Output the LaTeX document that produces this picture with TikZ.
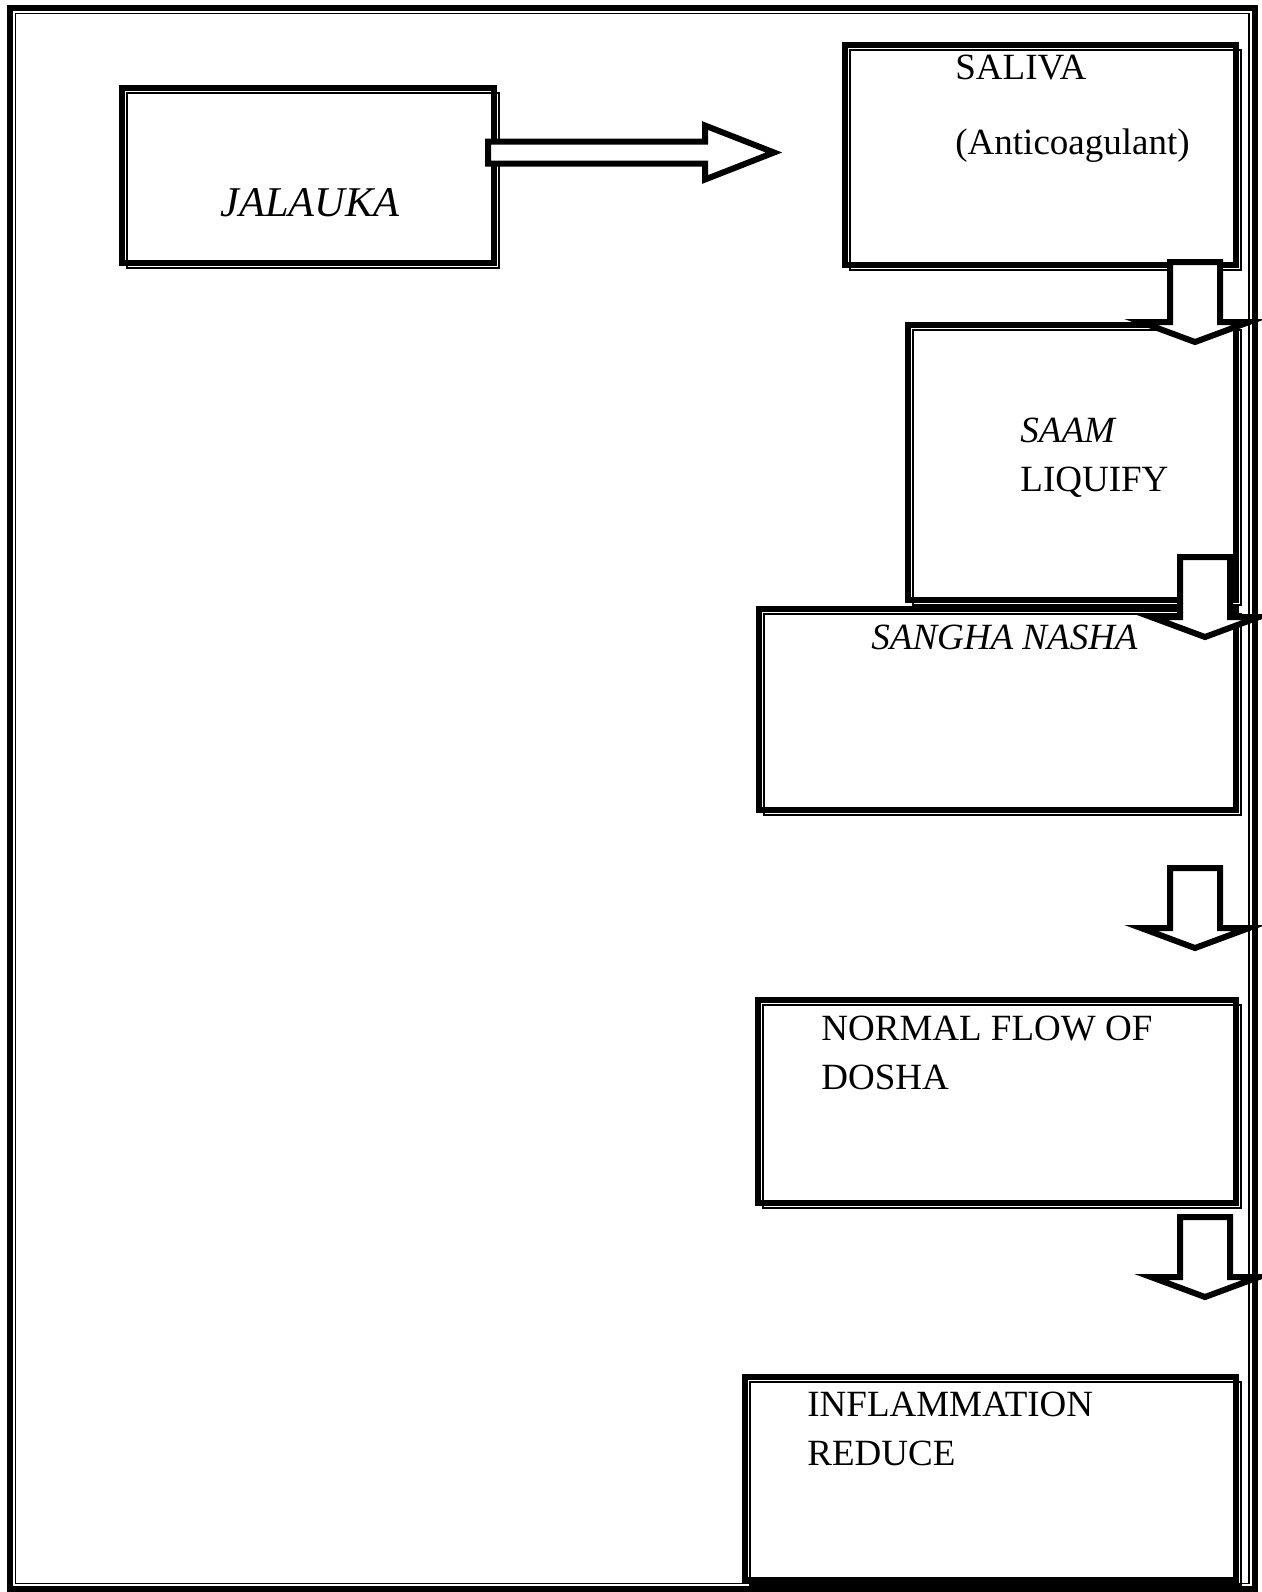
\documentclass[tikz,border=0pt]{standalone}
\usepackage{fontspec}
\setmainfont{Liberation Serif}
\usetikzlibrary{fit,calc}
\tikzset{
  dbox/.style={rectangle, draw=black, line width=3pt, inner sep=0pt, outer sep=0pt,
    postaction={draw=black, line width=1pt, transform canvas={shift={(2.5pt,-2.5pt)}}}},
  lbl/.style={anchor=base west, inner sep=0pt, align=left, font=\fontsize{18.5}{24.5}\selectfont},
  biglbl/.style={lbl, font=\fontsize{21.2}{26}\selectfont},
  blkarr/.style={draw=black, line width=3pt, fill=white, line join=miter},
  frameout/.style={draw=black, line width=3pt},
  framein/.style={draw=black, line width=0.7pt},
  pics/downarr/.style={code={
    \draw[blkarr] (-25,0) -- (25,0) -- (25,60) -- (54,60) -- (0,80) -- (-54,60) -- (-25,60) -- cycle;
  }},
  pics/rightarr/.style={code={
    \draw[blkarr] (0,-11) -- (217,-11) -- (217,-27) -- (286,0) -- (217,27) -- (217,11) -- (0,11) -- cycle;
  }},
}
\begin{document}
\begin{tikzpicture}[x=0.5pt, y=-0.5pt]
\useasboundingbox (0,0) rectangle (1262,1592);
% page frame
\draw[frameout] (10,8) rectangle (1254.5,1589);
\draw[framein] (15.5,13.5) rectangle (1249,1583.5);
% boxes
\node[dbox, fit={(122,88) (494,263)}] (jal) {};
\node[dbox, fit={(845,45) (1236,265)}] (sal) {};
\node[dbox, fit={(908,325) (1236,600)}] (saam) {};
\node[dbox, fit={(758.5,609) (1236,810)}] (sangha) {};
\node[dbox, fit={(758,1000) (1236,1203)}] (dosha) {};
\node[dbox, fit={(744.5,1376.5) (1236,1580)}] (infl) {};
% labels
\node[biglbl] (jaltxt) at (220,216) {\textit{JALAUKA}};
\node[lbl] (saltxt) at (955,154) {SALIVA\\[13pt](Anticoagulant)};
\node[lbl] (saamtxt) at (1020,491) {\textit{SAAM}\\LIQUIFY};
\node[lbl] (sanghatxt) at (871,649) {\textit{SANGHA NASHA}};
\node[lbl] (doshatxt) at (821,1089) {NORMAL FLOW OF\\DOSHA};
\node[lbl] (infltxt) at (807,1465) {INFLAMMATION\\REDUCE};
% block arrows
\pic at ($(jal.east)+(-6,-23)$) {rightarr};
\pic at ($(sal.south east)+(-41,-3)$) {downarr};
\pic at ($(saam.south east)+(-31,-43)$) {downarr};
\pic at ($(sangha.south east)+(-41,58)$) {downarr};
\pic at ($(dosha.south east)+(-31,14)$) {downarr};
\end{tikzpicture}
\end{document}
